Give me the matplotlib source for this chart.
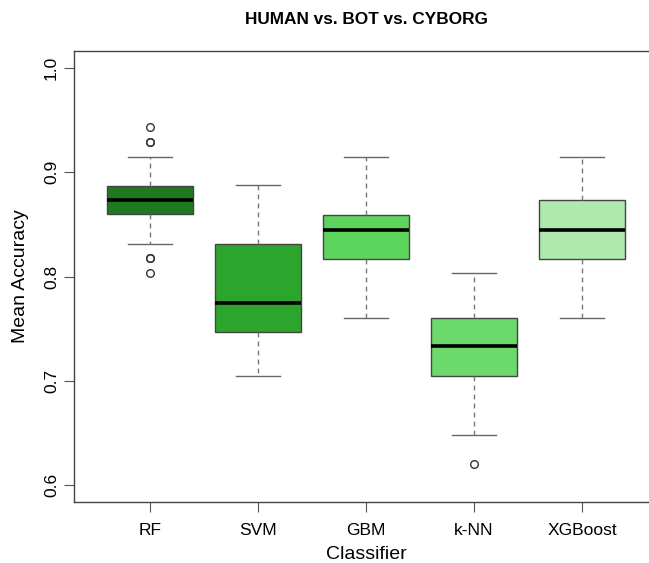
import matplotlib
matplotlib.use("Agg")
import matplotlib.pyplot as plt

plt.rcParams['font.family'] = ['Liberation Sans', 'DejaVu Sans']

# Valores
classifiers = ['RF', 'SVM', 'GBM', 'k-NN', 'XGBoost']
whisker_low = [0.831, 0.705, 0.760, 0.648, 0.760]
q1 = [0.860, 0.747, 0.817, 0.705, 0.817]
median = [0.873, 0.775, 0.845, 0.733, 0.845]
q3 = [0.887, 0.831, 0.859, 0.760, 0.873]
whisker_high = [0.915, 0.888, 0.915, 0.803, 0.915]
outliers = [[0.943, 0.929, 0.929, 0.818, 0.818, 0.803], [], [], [0.620], []]
colors = ['#1f7a1f', '#2ca52c', '#5dd55d', '#6cd96c', '#aeeaae']

stats = []
for i in range(len(classifiers)):
    stats.append(dict(label=classifiers[i], whislo=whisker_low[i], q1=q1[i],
                      med=median[i], q3=q3[i], whishi=whisker_high[i],
                      fliers=outliers[i]))

fig = plt.figure(figsize=(6.49, 5.63), dpi=100)
ax = fig.add_axes([74.4 / 649, 61.3 / 563, 583.2 / 649, 450.4 / 563])

bp = ax.bxp(stats, widths=0.8, patch_artist=True,
            boxprops=dict(edgecolor='#444444', linewidth=1.0),
            medianprops=dict(color='black', linewidth=2.6),
            whiskerprops=dict(color='#777777', linestyle=(0, (3.5, 3)), linewidth=1.0),
            capprops=dict(color='#666666', linewidth=1.0),
            flierprops=dict(marker='o', markerfacecolor='none', markeredgecolor='#333333',
                            markersize=5.5, markeredgewidth=1.0),
            capwidths=0.4)
for patch, c in zip(bp['boxes'], colors):
    patch.set_facecolor(c)

ax.set_xlim(0.3, 5.7)
ax.set_ylim(0.584, 1.016)
ax.set_yticks([0.6, 0.7, 0.8, 0.9, 1.0])
ax.set_yticklabels(['0.6', '0.7', '0.8', '0.9', '1.0'])
ax.tick_params(axis='y', labelrotation=90, labelsize=12.5, length=7, color='#555555', pad=4)
ax.tick_params(axis='x', labelsize=12.5, length=7, color='#555555', pad=8)
for lbl in ax.get_yticklabels():
    lbl.set_va('center')
for s in ax.spines.values():
    s.set_color('#444444')
    s.set_linewidth(1.0)
ax.spines['right'].set_visible(False)

ax.set_xlabel('Classifier', fontsize=14, labelpad=6)
ax.set_ylabel('Mean Accuracy', fontsize=14, labelpad=11)
ax.set_title('HUMAN vs. BOT vs. CYBORG', fontsize=12.4, fontweight='bold', pad=20)

fig.savefig('out.png', dpi=100)
